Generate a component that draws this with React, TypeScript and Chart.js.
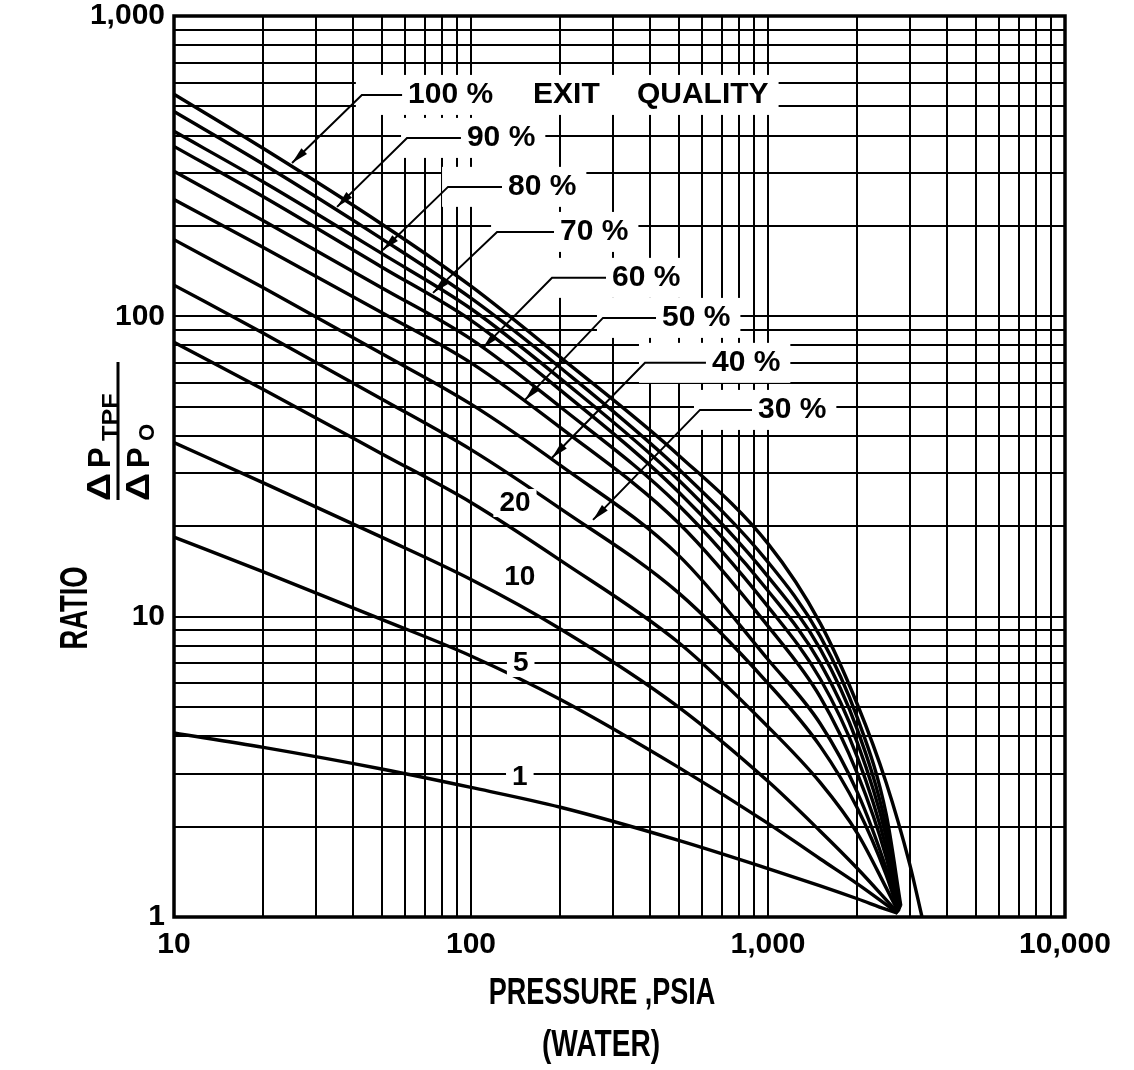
import React, { useEffect, useRef } from 'react';
import { Chart, registerables } from 'chart.js';

Chart.register(...registerables);

const FONT = "'Liberation Sans', 'DejaVu Sans', Arial, sans-serif";

// Pressure (psia) sample points shared by every exit-quality curve
const PRESSURE = [10, 20, 50, 100, 200, 500, 1000, 1500, 2000, 2500];

// Ratio dP_TPF / dP_0 at the pressures above
const RATIO_1 = [4.1, 3.67, 3.11, 2.7, 2.32, 1.8, 1.45, 1.27, 1.15, 1.06];
const RATIO_5 = [18.4, 14.1, 9.8, 7.4, 5.3, 3.15, 2.05, 1.56, 1.29, 1.1];
const RATIO_10 = [38, 27.9, 18.4, 13.3, 9.1, 5.0, 2.83, 1.93, 1.45, 1.14];
const RATIO_20 = [82, 57.1, 34.9, 24, 15.4, 8.2, 4.3, 2.8, 1.9, 1.25];
const RATIO_30 = [127, 87.9, 53.1, 36, 22.9, 12, 6.0, 3.7, 2.3, 1.38];
const RATIO_40 = [180, 124.5, 75.2, 51, 31.9, 16, 7.2, 4.4, 2.6, 1.45];
const RATIO_50 = [245, 169.6, 103, 70, 42.6, 20.5, 9.3, 5.4, 3.0, 1.58];
const RATIO_60 = [304, 208, 124.6, 84, 49.9, 23.5, 10.8, 6.2, 3.4, 1.7];
const RATIO_70 = [368, 250, 146, 97, 56.8, 26, 12.2, 7.0, 3.8, 1.85];
const RATIO_80 = [413, 280, 162, 106, 62, 28.5, 13.6, 7.8, 4.2, 2.0];
const RATIO_90 = [481, 321, 181.5, 115, 67.4, 31, 15.2, 8.6, 4.6, 2.2];
const RATIO_100 = [549, 362, 203, 126, 73, 34.5, 17.5, 9.5, 5.1, 2.8];

// Convergence end points for the 1% .. 90% curves
const END_PRESSURE = [2730, 2735, 2740, 2745, 2750, 2755, 2760, 2770, 2780, 2790, 2800];
const END_RATIO = [1.03, 1.03, 1.03, 1.04, 1.04, 1.05, 1.05, 1.06, 1.07, 1.08, 1.09];
// Tail of the 100% curve
const TAIL_PRESSURE_100 = [3000, 3300];
const TAIL_RATIO_100 = [1.5, 1.0];

const SERIES = [RATIO_1, RATIO_5, RATIO_10, RATIO_20, RATIO_30, RATIO_40, RATIO_50, RATIO_60, RATIO_70, RATIO_80, RATIO_90, RATIO_100];
const SERIES_NAMES = ['1%', '5%', '10%', '20%', '30%', '40%', '50%', '60%', '70%', '80%', '90%', '100%'];

// Grid / tick values
const X_GRID = [10, 20, 30, 40, 50, 60, 70, 80, 90, 100, 200, 300, 400, 500, 600, 700, 800, 900, 1000, 2000, 3000, 4000, 5000, 6000, 7000, 8000, 9000, 10000];
const Y_GRID = [1, 2, 3, 4, 5, 6, 7, 8, 9, 10, 20, 30, 40, 50, 60, 70, 80, 90, 100, 200, 300, 400, 500, 600, 700, 800, 900, 1000];
const X_MAJOR = [10, 100, 1000, 10000];
const X_MAJOR_LABELS = ['10', '100', '1,000', '10,000'];
const Y_MAJOR = [1, 10, 100, 1000];
const Y_MAJOR_LABELS = ['1', '10', '100', '1,000'];

// Leader-line annotations (data coordinates)
const LEADER_LABELS = ['100 %', '90 %', '80 %', '70 %', '60 %', '50 %', '40 %', '30 %'];
const LEADER_TEXT_P = [61.4, 96.9, 133.2, 199.4, 298.4, 439.7, 647.6, 925.2];
const LEADER_TEXT_R = [546, 392.7, 269.8, 191, 134.3, 98.8, 70, 48.8];
const LEADER_ELBOW_P = [42.9, 60.9, 83.7, 122.4, 187.4, 278.2, 385.3, 590.2];
const LEADER_TIP_P = [24.97, 35.4, 50.5, 74.5, 109.7, 152, 187.4, 257.5];
const LEADER_TIP_R = [324, 231.4, 166.4, 119.7, 78.5, 52.7, 33.8, 21.0];
const EXTRA_WORDS = ['EXIT', 'QUALITY'];
const EXTRA_WORDS_P = [161.8, 362];

const CURVE_LABELS = ['20', '10', '5', '1'];
const CURVE_LABEL_P = [140.6, 146, 147, 146];
const CURVE_LABEL_R = [23.9, 13.5, 7.01, 2.93];

function drawText(
  ctx: CanvasRenderingContext2D,
  text: string,
  x: number,
  y: number,
  o: { size: number; align?: CanvasTextAlign; baseline?: CanvasTextBaseline; scaleX?: number; rotate?: number; weight?: string }
) {
  ctx.save();
  ctx.translate(x, y);
  if (o.rotate) ctx.rotate(o.rotate);
  ctx.scale(o.scaleX ?? 1, 1);
  ctx.font = `${o.weight ?? 'bold'} ${o.size}px ${FONT}`;
  ctx.textAlign = o.align ?? 'left';
  ctx.textBaseline = o.baseline ?? 'middle';
  ctx.fillStyle = '#000';
  ctx.fillText(text, 0, 0);
  ctx.restore();
}

function arrowHead(ctx: CanvasRenderingContext2D, x0: number, y0: number, x1: number, y1: number) {
  const a = Math.atan2(y1 - y0, x1 - x0);
  const len = 17;
  const w = 4;
  const bx = x1 - len * Math.cos(a);
  const by = y1 - len * Math.sin(a);
  ctx.beginPath();
  ctx.moveTo(x1, y1);
  ctx.lineTo(bx + w * Math.sin(a), by - w * Math.cos(a));
  ctx.lineTo(bx - w * Math.sin(a), by + w * Math.cos(a));
  ctx.closePath();
  ctx.fill();
}

const overlayPlugin = {
  id: 'overlay',
  beforeDraw(chart: any) {
    const ctx = chart.ctx as CanvasRenderingContext2D;
    ctx.save();
    ctx.fillStyle = '#fff';
    ctx.fillRect(0, 0, chart.width, chart.height);
    ctx.restore();
  },
  afterDatasetsDraw(chart: any) {
    const ctx = chart.ctx as CanvasRenderingContext2D;
    const xs = chart.scales.x;
    const ys = chart.scales.y;
    const px = (v: number) => xs.getPixelForValue(v);
    const py = (v: number) => ys.getPixelForValue(v);

    ctx.save();
    ctx.font = `bold 30px ${FONT}`;
    // white boxes behind labels (gridline breaks)
    ctx.fillStyle = '#fff';
    LEADER_LABELS.forEach((t, i) => {
      const tx = px(LEADER_TEXT_P[i]);
      const ty = py(LEADER_TEXT_R[i]);
      const ex = px(LEADER_ELBOW_P[i]);
      let right = tx + ctx.measureText(t).width;
      if (i === 0) right = px(EXTRA_WORDS_P[1]) + ctx.measureText(EXTRA_WORDS[1]).width;
      ctx.fillRect(ex - 6, ty - 20, right - ex + 16, 40);
    });
    ctx.font = `bold 28px ${FONT}`;
    CURVE_LABELS.forEach((t, i) => {
      const w = ctx.measureText(t).width;
      const cx = px(CURVE_LABEL_P[i]);
      const cy = py(CURVE_LABEL_R[i]);
      ctx.fillRect(cx - w / 2 - 6, cy - 14, w + 12, 28);
    });

    // leader lines + arrows
    ctx.strokeStyle = '#000';
    ctx.fillStyle = '#000';
    ctx.lineWidth = 2;
    LEADER_LABELS.forEach((t, i) => {
      const tx = px(LEADER_TEXT_P[i]);
      const ty = py(LEADER_TEXT_R[i]);
      const ex = px(LEADER_ELBOW_P[i]);
      const kx = px(LEADER_TIP_P[i]);
      const ky = py(LEADER_TIP_R[i]);
      ctx.beginPath();
      ctx.moveTo(tx - 6, ty);
      ctx.lineTo(ex, ty);
      ctx.lineTo(kx, ky);
      ctx.stroke();
      arrowHead(ctx, ex, ty, kx, ky);
      drawText(ctx, t, tx, ty, { size: 30 });
    });
    EXTRA_WORDS.forEach((t, i) => {
      drawText(ctx, t, px(EXTRA_WORDS_P[i]), py(LEADER_TEXT_R[0]), { size: 30 });
    });
    CURVE_LABELS.forEach((t, i) => {
      drawText(ctx, t, px(CURVE_LABEL_P[i]), py(CURVE_LABEL_R[i]), { size: 28, align: 'center' });
    });
    ctx.restore();
  },
  afterDraw(chart: any) {
    const ctx = chart.ctx as CanvasRenderingContext2D;
    const a = chart.chartArea;
    ctx.save();
    ctx.strokeStyle = '#000';
    ctx.lineWidth = 3.5;
    ctx.strokeRect(a.left, a.top, a.right - a.left, a.bottom - a.top);

    // x-axis title
    drawText(ctx, 'PRESSURE ,PSIA', 602, 994, { size: 37, align: 'center', scaleX: 0.73 });
    drawText(ctx, '(WATER)', 601, 1046, { size: 37, align: 'center', scaleX: 0.76 });

    // y-axis title
    const rot = -Math.PI / 2;
    drawText(ctx, 'RATIO', 77, 608, { size: 38, align: 'center', scaleX: 0.72, rotate: rot });
    ctx.translate(118, 431);
    ctx.rotate(rot);
    ctx.fillStyle = '#000';
    ctx.fillRect(-69, -1.5, 138, 3);
    drawText(ctx, '\u0394', -70, -8, { size: 34, baseline: 'alphabetic', scaleX: 1.15 });
    drawText(ctx, 'P', -37, -8, { size: 31, baseline: 'alphabetic' });
    drawText(ctx, 'TPF', -10, -1, { size: 22, baseline: 'alphabetic', scaleX: 1.15 });
    drawText(ctx, '\u0394', -70, 31, { size: 34, baseline: 'alphabetic', scaleX: 1.15 });
    drawText(ctx, 'P', -37, 31, { size: 31, baseline: 'alphabetic' });
    drawText(ctx, 'O', -10, 36, { size: 22, baseline: 'alphabetic' });
    ctx.restore();
  },
};

function buildPoints(i: number) {
  const vals = SERIES[i];
  const pts = PRESSURE.map((p, j) => ({ x: p, y: vals[j] }));
  if (i < END_PRESSURE.length) {
    pts.push({ x: END_PRESSURE[i], y: END_RATIO[i] });
  } else {
    TAIL_PRESSURE_100.forEach((p, j) => pts.push({ x: p, y: TAIL_RATIO_100[j] }));
  }
  return pts;
}

export default function App() {
  const ref = useRef<HTMLCanvasElement | null>(null);
  useEffect(() => {
    if (!ref.current) return;
    const tickFont = { family: FONT, size: 30, weight: 'bold' as const };
    const chart = new Chart(ref.current, {
      type: 'line',
      data: {
        datasets: SERIES.map((_, i) => ({
          label: SERIES_NAMES[i],
          data: buildPoints(i),
          borderColor: '#000',
          borderWidth: 3.4,
          pointRadius: 0,
          fill: false,
          cubicInterpolationMode: 'monotone' as const,
        })),
      },
      options: {
        animation: false,
        responsive: false,
        devicePixelRatio: 1,
        layout: { padding: { left: 0, right: 69, top: 16, bottom: 0 } },
        plugins: { legend: { display: false }, tooltip: { enabled: false } },
        scales: {
          x: {
            type: 'logarithmic',
            min: 10,
            max: 10000,
            afterBuildTicks: (s: any) => {
              s.ticks = X_GRID.map((v) => ({ value: v }));
            },
            afterFit: (s: any) => {
              s.height = 153;
              s.paddingLeft = 0;
              s.paddingRight = 0;
            },
            grid: { color: '#000', lineWidth: 2, drawTicks: false },
            border: { display: false },
            ticks: {
              autoSkip: false,
              maxRotation: 0,
              padding: 10,
              color: '#000',
              font: tickFont,
              callback: (v: any) => {
                const k = X_MAJOR.indexOf(Number(v));
                return k >= 0 ? X_MAJOR_LABELS[k] : '';
              },
            },
          },
          y: {
            type: 'logarithmic',
            min: 1,
            max: 1000,
            afterBuildTicks: (s: any) => {
              s.ticks = Y_GRID.map((v) => ({ value: v }));
            },
            afterFit: (s: any) => {
              s.width = 174;
              s.paddingTop = 0;
              s.paddingBottom = 0;
            },
            grid: { color: '#000', lineWidth: 2, drawTicks: false },
            border: { display: false },
            ticks: {
              autoSkip: false,
              padding: 9,
              color: '#000',
              font: tickFont,
              callback: (v: any) => {
                const k = Y_MAJOR.indexOf(Number(v));
                return k >= 0 ? Y_MAJOR_LABELS[k] : '';
              },
            },
          },
        },
      },
      plugins: [overlayPlugin],
    });
    return () => chart.destroy();
  }, []);

  return (
    <div style={{ position: 'absolute', left: 0, top: 0, width: 1134, height: 1070, background: '#fff' }}>
      <canvas ref={ref} width={1134} height={1070} style={{ display: 'block' }} />
    </div>
  );
}
